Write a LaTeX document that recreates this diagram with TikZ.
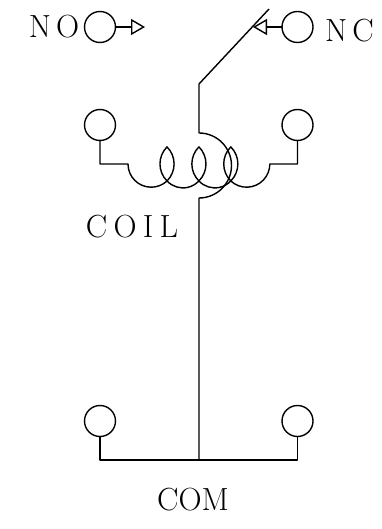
\documentclass[tikz,border=0pt]{standalone}
\usepackage{fontspec}
\usetikzlibrary{arrows.meta}
\tikzset{
  pin/.style={draw, circle, line width=1.4pt, minimum size=31pt, inner sep=0pt, outer sep=0pt},
  wire/.style={line width=1.4pt, line join=round},
  tag/.style={inner sep=0pt, font=\fontsize{32}{32}\selectfont},
  contact/.style={wire, -{Triangle[open, length=14pt, width=16pt, line width=1.4pt]}}
}
\begin{document}
\begin{tikzpicture}[x=1pt, y=-1pt]
        \useasboundingbox (0,0) rectangle (382,529);
        \node[pin] (no) at (100,27) {};
        \node[pin] (nc) at (297.5,27) {};
        \node[pin] (coilleft) at (100,125) {};
        \node[pin] (coilright) at (297.5,125) {};
        \node[pin] (comleft) at (100,421) {};
        \node[pin] (comright) at (297.5,421) {};
        \node[tag] (nolabel) at (54,27) {N\kern5pt O};
        \node[tag] (nclabel) at (349.5,31) {N\kern5pt C};
        \node[tag] (coillabel) at (132,227) {C\kern6.3pt O\kern6.3pt I\kern6.3pt L};
        \node[tag] (comlabel) at (193,500) {COM};
        \coordinate (notip) at (145,27);
        \coordinate (nctip) at (253,27);
        \coordinate (bladetip) at (269,9);
        \coordinate (bladeknee) at (199,84);
        \coordinate (armtop) at (199,133);
        \coordinate (junction) at (199,460);
        \coordinate (bendleft) at (100,164);
        \coordinate (bendright) at (297.5,164);
        \coordinate (coilstart) at (128,164);
        \draw[contact] (no) -- (notip);
        \draw[contact] (nc) -- (nctip);
        \draw[wire] (bladetip) -- (bladeknee) -- (armtop)
          arc[start angle=90, end angle=-90, radius=32.5pt] -- (junction);
        \draw[wire] (comleft.south) |- (junction) -| (comright.south);
        \draw[wire] (coilleft.south) -- (bendleft) -- (coilstart)
          arc[start angle=180, end angle=313, radius=23.2pt]
          arc[start angle=-45, end angle=45, radius=24.1pt]
          arc[start angle=135, end angle=225, radius=24.1pt]
          arc[start angle=223, end angle=317, radius=21.8pt]
          arc[start angle=-45, end angle=45, radius=24.1pt]
          arc[start angle=135, end angle=225, radius=24.1pt]
          arc[start angle=223, end angle=317, radius=21.8pt]
          arc[start angle=-45, end angle=45, radius=24.1pt]
          arc[start angle=135, end angle=225, radius=24.1pt]
          arc[start angle=227, end angle=360, radius=23.2pt]
          -- (bendright) -- (coilright.south);
      \end{tikzpicture}
\end{document}
